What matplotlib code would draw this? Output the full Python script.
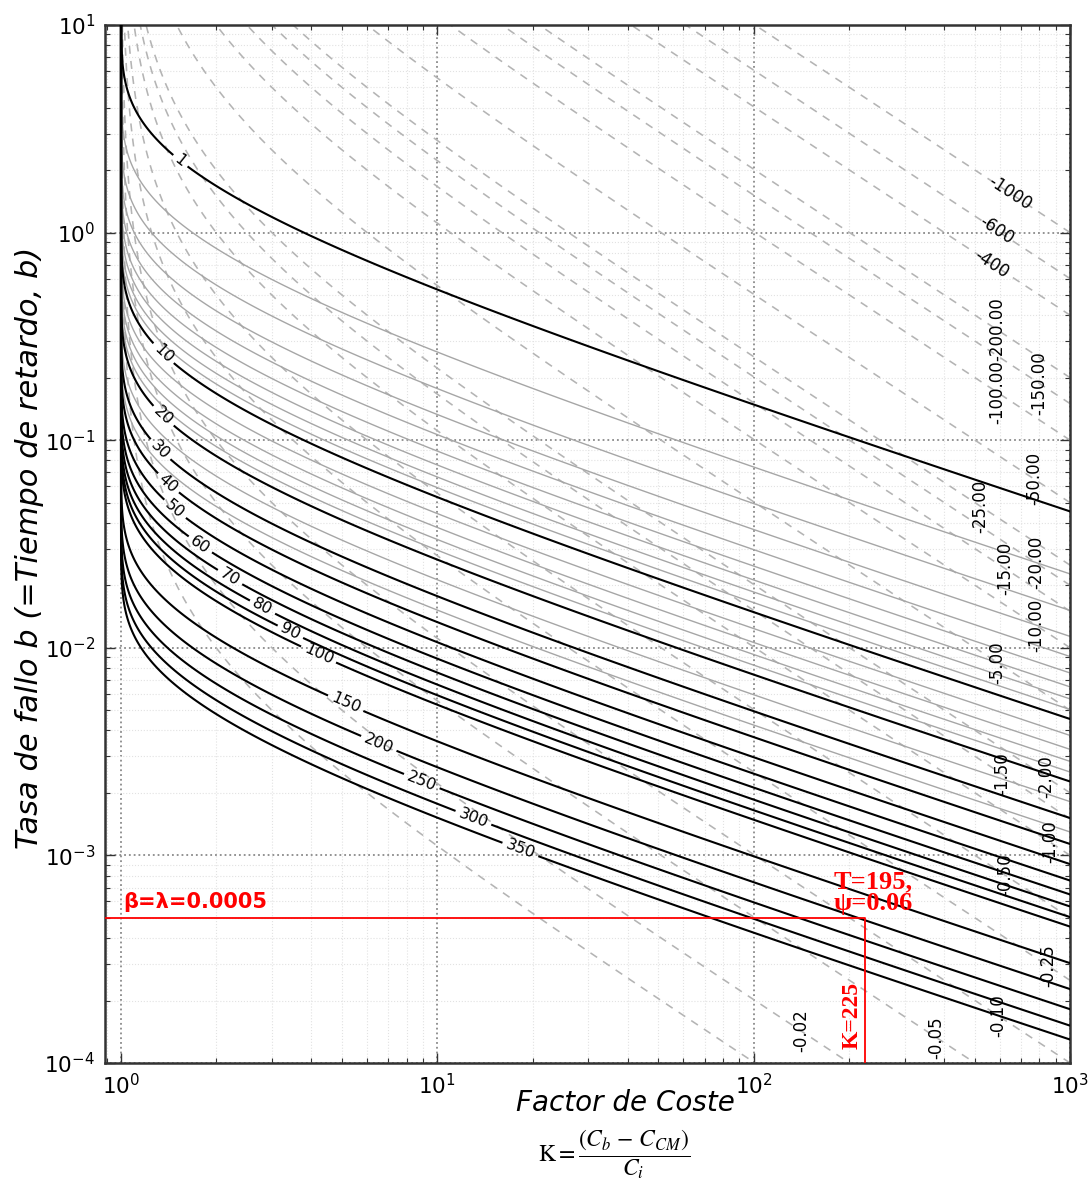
import numpy as np
import matplotlib
matplotlib.use("Agg")
import matplotlib.pyplot as plt

# ---------------------------------------------------------------------------
# Contour levels
# ---------------------------------------------------------------------------
# optimal inspection interval T: labelled (black) and intermediate (grey) curves
T_major = [1, 10, 20, 30, 40, 50, 60, 70, 80, 90, 100, 150, 200, 250, 300, 350]
T_minor = [2, 3, 4, 5, 6, 7, 8, 9, 12, 14, 16, 18, 25, 35]

# cost index psi (dashed curves)
psi_levels = [-1000, -600, -400, -200, -150, -100, -50, -25, -20, -15, -10,
              -5, -2, -1.5, -1, -0.5, -0.25, -0.1, -0.05, -0.02, -0.01]
psi_text = {-1000: "-1000", -600: "-600", -400: "-400", -200: "-200.00",
            -150: "-150.00", -100: "-100.00", -50: "-50.00", -25: "-25.00",
            -20: "-20.00", -15: "-15.00", -10: "-10.00", -5: "-5.00",
            -2: "-2.00", -1.5: "-1.50", -1: "-1.00", -0.5: "-0.50",
            -0.25: "-0.25", -0.1: "-0.10", -0.05: "-0.05", -0.02: "-0.02",
            -0.01: "-0.01"}

# worked example
K_example = 225
rate_example = 0.0005
T_example = 195
psi_example = 0.06

# label anchor abscissae (cost factor K) along each curve
T_label_K = [1.54, 1.36, 1.36, 1.33, 1.41, 1.48, 1.78, 2.21, 2.80, 3.43,
             4.21, 5.13, 6.53, 8.93, 13.0, 18.3]
psi_label_K = {-1000: 645, -600: 587, -400: 566, -200: 587, -150: 797,
               -100: 587, -50: 769, -25: 520, -20: 780, -15: 625, -10: 780,
               -5: 591, -2: 839, -1.5: 609, -1: 863, -0.5: 622, -0.25: 851,
               -0.1: 595, -0.05: 379, -0.02: 141}
psi_along_line = [-1000, -600, -400]


def interval_product(K):
    """x = b*T solving K * (1 - (1 + x) exp(-x)) = 1 for K > 1."""
    K = np.asarray(K, dtype=float)
    target = 1.0 / K
    lo = np.zeros_like(K)
    hi = np.full_like(K, 60.0)
    for _ in range(120):
        mid = 0.5 * (lo + hi)
        g = -np.expm1(-mid) - mid * np.exp(-mid)
        below = g < target
        lo = np.where(below, mid, lo)
        hi = np.where(below, hi, mid)
    return 0.5 * (lo + hi)


# evaluation grid (K = 1 is the asymptote of every curve)
K_grid = np.concatenate([[1.0], 1.0 + np.logspace(-7, np.log10(1001.0), 1600)])
b_grid = np.logspace(-4.1, 1.1, 800)
KK, BB = np.meshgrid(K_grid, b_grid)
x_K = np.full(K_grid.shape, np.nan)
x_K[1:] = interval_product(K_grid[1:])
T_surface = np.where(np.isnan(x_K)[None, :], 1e12, x_K[None, :] / b_grid[:, None])
psi_surface = -(KK - 1.0) * BB

# ---------------------------------------------------------------------------
fig = plt.figure(figsize=(10.88, 11.85), dpi=100)
ax = fig.add_axes([105 / 1088, 1 - 1063 / 1185, 965 / 1088, 1038 / 1185])
ax.set_xscale("log")
ax.set_yscale("log")
x_left, x_right = 0.89, 1000
y_bottom, y_top = 1e-4, 10
ax.set_xlim(x_left, x_right)
ax.set_ylim(y_bottom, y_top)

cs_psi = ax.contour(KK, BB, psi_surface, levels=sorted(psi_levels),
                    colors="#b4b4b4", linewidths=1.15,
                    linestyles=[(0, (5, 4.5))], zorder=1)
cs_gray = ax.contour(KK, BB, T_surface, levels=T_minor, colors="#a6a6a6",
                     linewidths=1.0, zorder=2)
cs_black = ax.contour(KK, BB, T_surface, levels=T_major, colors="black",
                      linewidths=1.5, zorder=3)

# labels on the T curves
T_manual = [(k, interval_product(np.array([k]))[0] / t)
            for k, t in zip(T_label_K, T_major)]
ax.clabel(cs_black, manual=T_manual, inline=True, inline_spacing=4,
          fmt="%d", fontsize=11.5)

# labels on the psi curves (anchored exactly on their own curve)
psi_labelled = [lev for lev in psi_levels if lev in psi_label_K]
psi_manual = [(psi_label_K[lev], -lev / (psi_label_K[lev] - 1.0))
              for lev in psi_labelled]
psi_texts = ax.clabel(cs_psi, manual=psi_manual, inline=False, fmt=psi_text,
                      fontsize=12, colors="black")
for lev, txt in zip(psi_labelled, psi_texts):
    if lev not in psi_along_line:
        txt.set_rotation(90)

# worked example
ax.plot([x_left, K_example, K_example], [rate_example, rate_example, y_bottom],
        color="red", lw=1.3, zorder=5)
ax.annotate(f"\u03b2=\u03bb={rate_example:g}",
            xy=(x_left, rate_example), xytext=(13, 4), textcoords="offset points",
            color="red", fontsize=15, fontweight="bold", va="bottom", ha="left",
            zorder=6)
ax.annotate(f"T={T_example},\n\u03c8={psi_example:g}",
            xy=(K_example, rate_example), xytext=(-23, 2), textcoords="offset points",
            color="red", fontsize=19, fontweight="bold", family="Liberation Serif",
            va="bottom", ha="left", linespacing=0.95, zorder=6)
ax.annotate(f"K={K_example}", xy=(K_example, y_bottom), xytext=(-2, 10),
            textcoords="offset points", color="red", fontsize=17,
            fontweight="bold", family="Liberation Serif", rotation=90,
            va="bottom", ha="right", zorder=6)

# axes styling
ax.grid(which="major", linestyle=":", color="#8a8a8a", linewidth=1.3)
ax.grid(which="minor", linestyle=":", color="#e2e2e2", linewidth=0.8)
ax.set_axisbelow(True)
ax.tick_params(which="both", direction="in", top=True, right=True,
               labelsize=15.5, color="#333333")
ax.tick_params(which="major", length=7, width=1.0, pad=7)
ax.tick_params(which="minor", length=3.5, width=0.8)
for sp in ax.spines.values():
    sp.set_linewidth(1.8)
    sp.set_color("#333333")

ax.set_xlabel("Factor de Coste", fontsize=20, style="italic", va="center")
ax.xaxis.set_label_coords((625 - 105) / 965, (1063 - 1103) / 1038)
ax.set_ylabel("Tasa de fallo b (=Tiempo de retardo, b)", fontsize=22,
              style="italic", va="center", ha="center")
ax.yaxis.set_label_coords((30 - 105) / 965, (1063 - 548) / 1038)

fig.text(614 / 1088, 1 - 1155 / 1185,
         r"$\mathrm{K}=\dfrac{(C_b\ \mathrm{-}\ C_{CM})}{C_i}$",
         math_fontfamily="stix", fontsize=17, ha="center", va="center")

fig.savefig("out.png", dpi=100)
